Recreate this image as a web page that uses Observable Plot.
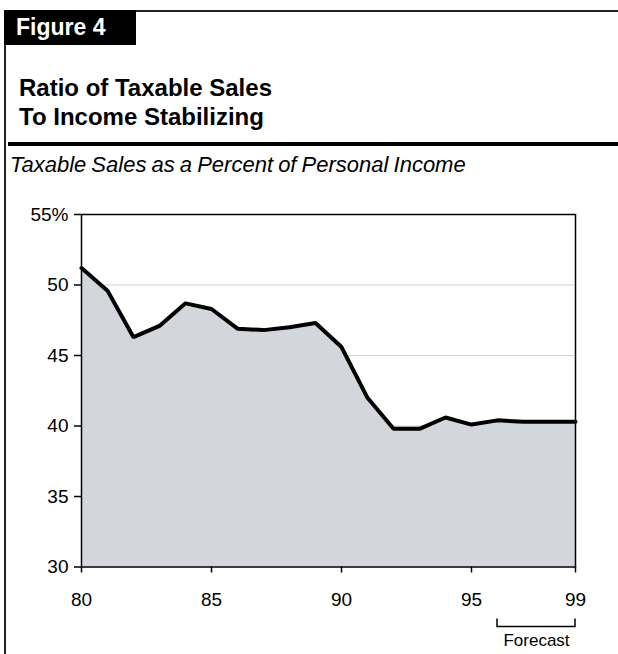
<!DOCTYPE html>
<html>
<head>
<meta charset="utf-8">
<script src="https://cdn.jsdelivr.net/npm/d3@7"></script>
<script src="https://cdn.jsdelivr.net/npm/@observablehq/plot@0.6"></script>
<style>
  body { margin: 0; background: #fff; }
  #page { position: relative; width: 618px; height: 654px; overflow: hidden; font-family: "Liberation Sans", Arial, sans-serif; color: #000; }
  #tab { position: absolute; left: 4px; top: 10px; width: 132px; height: 35px; background: #000; color: #fff; font-weight: bold; font-size: 23px; line-height: 35px; padding-left: 12px; box-sizing: border-box; }
  #topline { position: absolute; left: 136px; top: 10px; right: 0; height: 0; border-top: 2px solid #222; }
  #leftline { position: absolute; left: 4px; top: 45px; bottom: 0; border-left: 2px solid #222; }
  #title { position: absolute; left: 19px; top: 73px; font-weight: bold; font-size: 24px; line-height: 29px; margin: 0; }
  #rule { position: absolute; left: 8px; right: 0; top: 142px; height: 4px; background: #000; }
  #subtitle { position: absolute; left: 10px; top: 151px; font-style: italic; font-size: 22px; word-spacing: -1px; line-height: 28px; margin: 0; }
  #chart { position: absolute; left: 0; top: 190px; }
</style>
</head>
<body>
<div id="page">
  <div id="tab">Figure 4</div>
  <div id="topline"></div>
  <div id="leftline"></div>
  <div id="title">Ratio of Taxable Sales<br>To Income Stabilizing</div>
  <div id="rule"></div>
  <div id="subtitle">Taxable Sales as a Percent of Personal Income</div>
  <div id="chart"></div>
</div>
<script>
const years = [1980, 1981, 1982, 1983, 1984, 1985, 1986, 1987, 1988, 1989,
               1990, 1991, 1992, 1993, 1994, 1995, 1996, 1997, 1998, 1999];
const ratio = [51.2, 49.6, 46.3, 47.1, 48.7, 48.3, 46.9, 46.8, 47.0, 47.3,
               45.6, 42.0, 39.8, 39.8, 40.6, 40.1, 40.4, 40.3, 40.3, 40.3];
const xTicks = [1980, 1985, 1990, 1995, 1999];
const xTickLabels = ["80", "85", "90", "95", "99"];
const yTicks = [30, 35, 40, 45, 50, 55];
const yTickLabels = ["30", "35", "40", "45", "50", "55%"];
const forecastStart = 1996;
const forecastEnd = 1999;
const forecastLabel = "Forecast";

const data = years.map((year, i) => ({year, value: ratio[i]}));
const yMin = yTicks[0];

const bracket = (index, scales) => {
  const x1 = scales.x(forecastStart), x2 = scales.x(forecastEnd), yb = scales.y(yMin);
  const g = d3.create("svg:g");
  g.append("path")
    .attr("d", `M${x1},${yb + 52}V${yb + 60}H${x2}V${yb + 52}`)
    .attr("fill", "none")
    .attr("stroke", "#000")
    .attr("stroke-width", 1.5);
  return g.node();
};

const chart = Plot.plot({
  width: 618,
  height: 464,
  marginLeft: 81,
  marginRight: 43,
  marginTop: 24,
  marginBottom: 87.5,
  style: {fontFamily: "'Liberation Sans', Arial, sans-serif", fontSize: "19px", color: "#000", background: "transparent"},
  x: {domain: [years[0], years[years.length - 1]]},
  y: {domain: [yTicks[0], yTicks[yTicks.length - 1]]},
  marks: [
    Plot.gridY(yTicks.slice(1, -1), {stroke: "#cfd0d8", strokeOpacity: 1, strokeWidth: 1.2}),
    Plot.areaY(data, {x: "year", y1: yMin, y2: "value", fill: "#d3d6db"}),
    Plot.lineY(data, {x: "year", y: "value", stroke: "#000", strokeWidth: 4, strokeLinejoin: "miter"}),
    Plot.frame({stroke: "#000", strokeWidth: 1.5}),
    Plot.axisY({ticks: yTicks, tickFormat: d => yTickLabels[yTicks.indexOf(d)], tickSize: 7, tickPadding: 6, label: null, strokeWidth: 1.5, fontSize: 19}),
    Plot.axisX({ticks: xTicks, tickFormat: d => xTickLabels[xTicks.indexOf(d)], tickSize: 6, tickPadding: 19, label: null, strokeWidth: 1.5, fontSize: 19}),
    bracket,
    Plot.text([{x: (forecastStart + forecastEnd) / 2, label: forecastLabel}], {x: "x", y: () => yMin, text: "label", dy: 74, fontSize: 17, fill: "#000"})
  ]
});
document.getElementById("chart").appendChild(chart);
</script>
</body>
</html>
